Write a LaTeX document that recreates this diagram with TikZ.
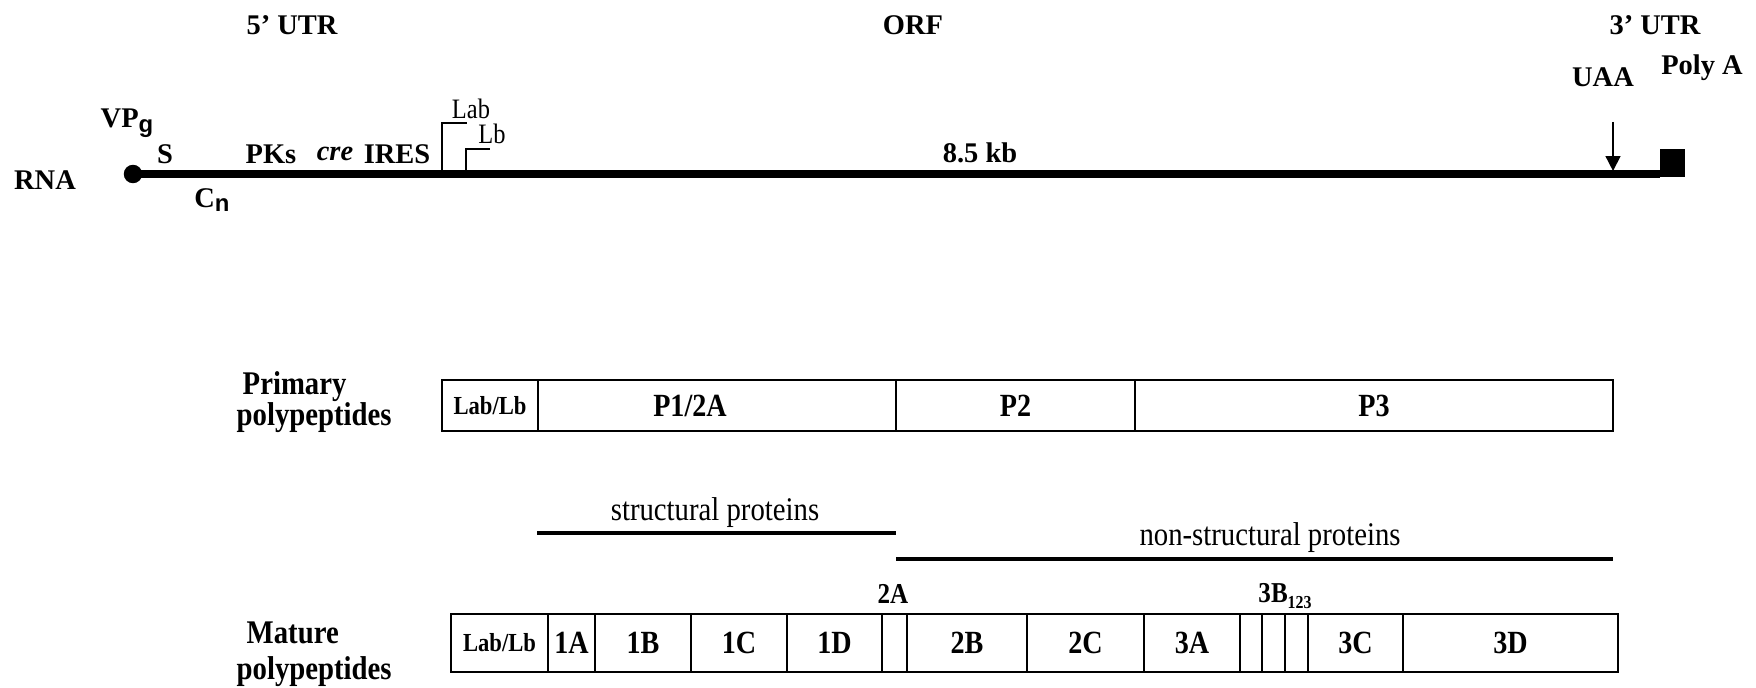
\documentclass[tikz,border=0pt]{standalone}
\usepackage{fontspec}
\setmainfont{Liberation Serif}
\newfontfamily\subsans{Liberation Sans}
\newfontfamily\tallfont[FakeStretch=0.87]{Liberation Serif}
\usetikzlibrary{arrows.meta}

\newcommand{\gsub}[1]{\raisebox{-0.35ex}{\fontsize{6.8}{7}\subsans\bfseries #1}}
\newcommand{\labfont}{\fontsize{7.4}{8}\selectfont}

\tikzset{
  top/.style={font=\fontsize{8.1}{9}\selectfont\bfseries, inner sep=0pt},
  tag/.style={font=\tallfont\fontsize{8}{9}\selectfont, inner sep=0pt},
  side/.style={inner sep=0pt, align=left, anchor=west},
  cell/.style={draw, line width=0.7pt, inner sep=0pt, font=\tallfont\fontsize{9.2}{10}\selectfont\bfseries},
  group/.style={font=\tallfont\fontsize{9.4}{10}\selectfont, inner sep=0pt},
  cut/.style={font=\tallfont\fontsize{8.2}{9}\selectfont\bfseries, inner sep=0pt},
}

\begin{document}
\begin{tikzpicture}[x=1cm,y=-1cm]
\useasboundingbox (0,0) rectangle (17.56,6.88);

\node[top] (utr5) at (2.92,0.25) {5’ UTR};
\node[top] (orf) at (9.13,0.25) {ORF};
\node[top] (utr3) at (16.55,0.25) {3’ UTR};
\node[top] (uaa) at (16.03,0.77) {UAA};
\node[top] (polya) at (17.02,0.68) {Poly A};

% RNA
\filldraw (1.33,1.74) circle (0.085) coordinate (five);
\coordinate (three) at (16.60,1.74);
\draw[line width=2pt] (five) -- (three);
\fill (16.60,1.49) rectangle (16.85,1.775);

\node[top] (rna) at (0.45,1.80) {RNA};
\node[top] (vpg) at (1.27,1.23) {VP\gsub{g}};
\node[top] (s) at (1.65,1.54) {S};
\node[top] (cn) at (2.12,2.00) {C\gsub{n}};
\node[top] (pks) at (2.71,1.54) {PKs};
\node[top] (cre) at (3.35,1.54) {\itshape cre};
\node[top] (ires) at (3.97,1.54) {IRES};
\node[top] (kb) at (9.80,1.53) {8.5 kb};

\coordinate (labstart) at (4.42,1.74);
\coordinate (lbstart) at (4.66,1.74);
\draw[line width=0.6pt] (labstart) |- (4.67,1.23);
\draw[line width=0.6pt] (lbstart) |- (4.90,1.49);
\node[tag] (lab) at (4.71,1.09) {Lab};
\node[tag] (lb) at (4.92,1.34) {Lb};

\coordinate (uaafrom) at (16.13,1.22);
\coordinate (uaato) at (16.13,1.71);
\draw[line width=0.45pt, -{Triangle[length=4.2pt,width=4.2pt]}] (uaafrom) -- (uaato);

% primary polypeptides
\node[side, font=\tallfont\fontsize{9.4}{8.6}\selectfont\bfseries] (primary) at (2.36,4.02) {\hspace*{0.06cm}Primary\\polypeptides};
\node[cell, minimum width=0.96cm, minimum height=0.51cm, font=\tallfont\labfont\bfseries] (p0) at (4.90,4.055) {Lab/Lb};
\node[cell, minimum width=3.58cm, minimum height=0.51cm] (p1) at (7.17,4.055) {P1/2A\hspace*{0.54cm}};
\node[cell, minimum width=2.39cm, minimum height=0.51cm] (p2) at (10.155,4.055) {P2};
\node[cell, minimum width=4.78cm, minimum height=0.51cm] (p3) at (13.74,4.055) {P3};

\node[group] (struct) at (7.15,5.13) {structural proteins};
\node[group] (nonstruct) at (12.70,5.38) {non-structural proteins};
\coordinate (sa) at (5.37,5.33);
\coordinate (sb) at (8.96,5.33);
\coordinate (na) at (8.96,5.59);
\coordinate (nb) at (16.13,5.59);
\draw[line width=1.1pt] (sa) -- (sb);
\draw[line width=1.1pt] (na) -- (nb);

% mature polypeptides
\node[side, font=\tallfont\fontsize{9.4}{10.2}\selectfont\bfseries] (mature) at (2.36,6.54) {\hspace*{0.1cm}Mature\\polypeptides};
\foreach \l/\r/\t [count=\i] in {4.51/5.48/{\labfont Lab/Lb}, 5.48/5.95/1A, 5.95/6.91/1B,
    6.91/7.87/1C, 7.87/8.82/1D, 8.82/9.07/{}, 9.07/10.27/2B, 10.27/11.44/2C,
    11.44/12.40/3A, 12.40/12.62/{}, 12.62/12.85/{}, 12.85/13.08/{}, 13.08/14.03/3C, 14.03/16.18/3D}
  \node[cell, minimum width={(\r-\l)*1cm}, minimum height=0.58cm] (m\i) at ({(\l+\r)/2},6.43) {\t};

\node[cut] (twoa) at (8.93,5.94) {2A};
\node[cut] (threeb) at (12.85,5.96) {3B\raisebox{-0.45ex}{\fontsize{5.2}{5}\selectfont 123}};

\end{tikzpicture}
\end{document}
